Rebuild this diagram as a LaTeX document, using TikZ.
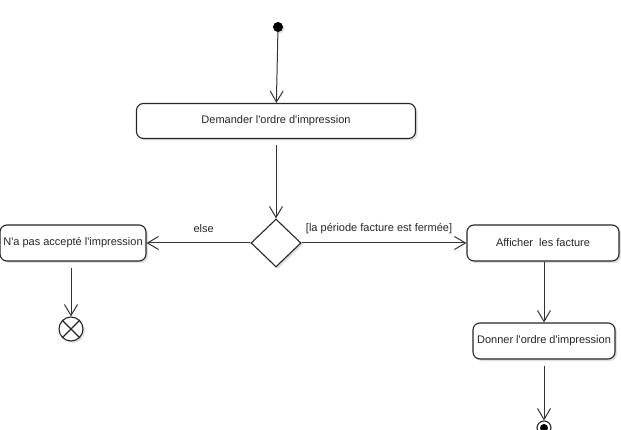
\documentclass[tikz,border=0pt]{standalone}
\usepackage{fontspec}
\setmainfont{Liberation Sans}
\usetikzlibrary{arrows.meta,shapes.geometric,shadows}
\newcommand{\ap}{\textquotesingle}
\begin{document}
\begin{tikzpicture}[x=1pt,y=-1pt,
  line/.style={draw=black!80, line width=1pt},
  flow/.style={line, -{Straight Barb[length=11pt,width=13pt,line width=1pt]}},
  act/.style={draw=black!85, line width=1.1pt, rounded corners=7pt, fill=white,
    drop shadow={shadow xshift=2pt, shadow yshift=-2pt, opacity=0.25},
    inner sep=0pt, font=\fontsize{11}{13}\selectfont, text=black!85},
  lbl/.style={font=\fontsize{11}{13}\selectfont, text=black!85}]
\useasboundingbox (0,0) rectangle (621,430);
\node[circle, fill=black, inner sep=0pt, minimum size=10pt,
  drop shadow={shadow xshift=1.5pt, shadow yshift=-1.5pt, opacity=0.25}] (init) at (278,27) {};
\node[act, minimum width=279pt, minimum height=35pt] (dem) at (276,121) {Demander l\ap ordre d\ap impression};
\node[diamond, draw=black!85, line width=1.1pt, fill=white, minimum width=50pt, minimum height=48pt,
  inner sep=0pt, aspect=1,
  drop shadow={shadow xshift=2pt, shadow yshift=-2pt, opacity=0.25}] (dec) at (276,243) {};
\node[act, minimum width=146pt, minimum height=36pt] (nap) at (73,243) {N\ap a pas accepté l\ap impression};
\node[act, minimum width=152pt, minimum height=36pt] (aff) at (543,243) {Afficher\ \ les facture};
\node[act, minimum width=142pt, minimum height=36pt] (don) at (544,341) {Donner l\ap ordre d\ap impression};
\node[circle, draw=black!85, line width=1.1pt, fill=white, minimum size=24pt, inner sep=0pt,
  drop shadow={shadow xshift=2pt, shadow yshift=-2pt, opacity=0.25}] (ff) at (71,329) {};
\draw[line width=1.1pt, black!85] (ff.north east) -- (ff.south west) (ff.north west) -- (ff.south east);
\node[circle, draw=black!85, line width=1.1pt, fill=white, minimum size=14pt, inner sep=0pt] (fin) at (544,428) {};
\node[circle, fill=black, minimum size=8pt, inner sep=0pt] (finc) at (fin.center) {};
\draw[flow] (init) -- (dem);
\draw[flow, shorten <=6pt] (dem) -- (dec);
\draw[flow] (dec.west) -- (nap.east) node[lbl, pos=0.45, above=7pt] {else};
\draw[flow] (dec.east) -- (aff.west) node[lbl, pos=0.47, above=5pt] {[la période facture est fermée]};
\draw[flow, shorten <=6pt] (nap.south -| ff.north) -- (ff.north);
\draw[flow] (aff.south -| don.north) -- (don.north);
\draw[flow, shorten <=6pt] (don) -- (fin);
\end{tikzpicture}
\end{document}
